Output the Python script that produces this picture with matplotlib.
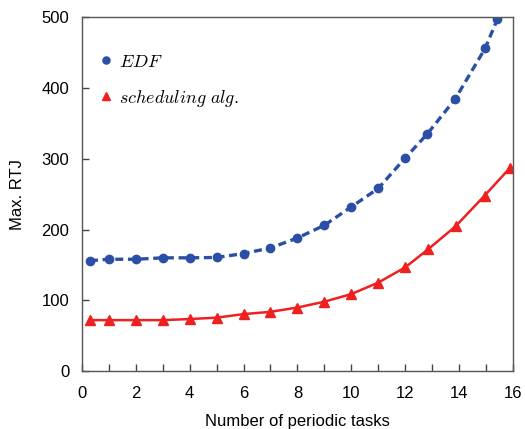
import matplotlib
matplotlib.use("Agg")
import matplotlib.pyplot as plt

plt.rcParams['font.family'] = ['Liberation Sans', 'DejaVu Sans']
plt.rcParams['mathtext.fontset'] = 'cm'

edf_x = [0.3, 1, 2, 3, 4, 5, 6, 7, 8, 9, 10, 11, 12, 12.82, 13.85, 14.97, 15.42]
edf_y = [156, 158, 158, 160, 160, 160.5, 166, 174, 188, 206, 232, 258, 301, 335, 384, 456, 497]
alg_x = [0.3, 1, 2, 3, 4, 5, 6, 7, 8, 9, 10, 11, 12, 12.85, 13.87, 14.95, 15.9]
alg_y = [72, 72, 72, 72, 73.5, 75.5, 80.5, 83.7, 89.8, 98, 108.8, 125, 146.5, 172, 204.5, 248, 287.5]

blue = '#2c4fa6'
red = '#ee2020'

fig = plt.figure(figsize=(5.25, 4.29), dpi=100)
ax = fig.add_axes([0.156, 0.135, 0.821, 0.825])

ax.plot(edf_x, edf_y, color=blue, lw=2.4, ls=(0, (2.4, 1.4)), marker='o', ms=6,
        label=r'$EDF$')
ax.plot(alg_x, alg_y, color=red, lw=1.8, ls='-', marker='^', ms=6.5,
        label=r'$scheduling\ alg.$')

ax.set_xlim(0, 16)
ax.set_ylim(0, 500)
ax.set_xticks(range(0, 17))
ax.set_xticklabels([str(i) if i % 2 == 0 else '' for i in range(0, 17)])
ax.set_yticks(range(0, 501, 100))
ax.tick_params(direction='in', length=5, width=1, color='#444444', labelsize=12,
               top=False, right=False)
ax.tick_params(axis='x', pad=11)
ax.tick_params(axis='y', pad=9)
for s in ax.spines.values():
    s.set_color('#555555')
    s.set_linewidth(1.0)

ax.set_xlabel('Number of periodic tasks', fontsize=12, labelpad=9)
ax.set_ylabel('Max. RTJ', fontsize=12, labelpad=12)

leg = ax.legend(loc='upper left', bbox_to_anchor=(0.018, 0.943), frameon=False,
                handlelength=0, handletextpad=0.75, fontsize=13, labelspacing=0.95,
                markerscale=0.85)

fig.savefig('out.png', dpi=100)
